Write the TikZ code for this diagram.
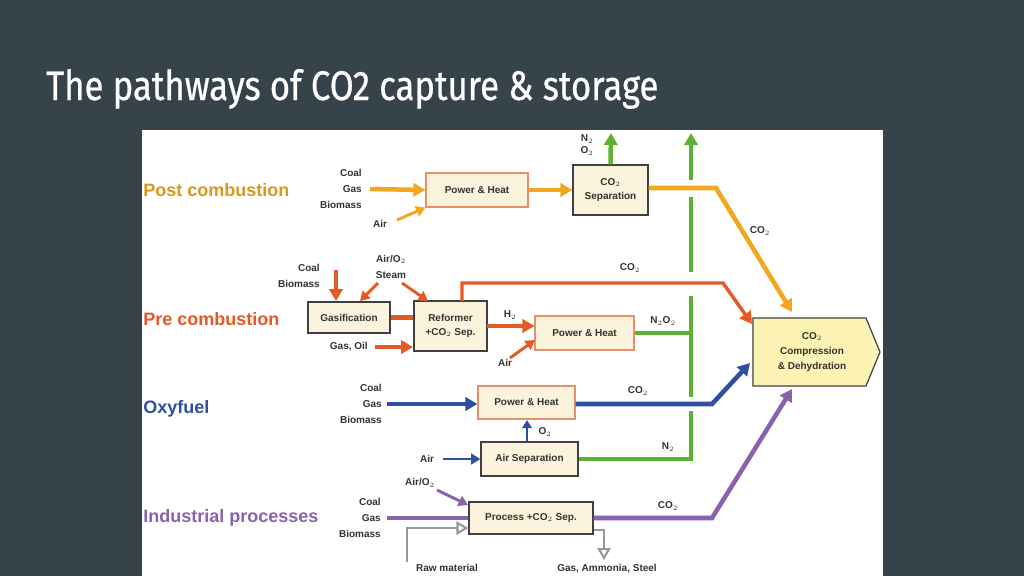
\documentclass[tikz,border=0pt]{standalone}
\usepackage{fontspec}
\setmainfont{Liberation Sans}
\newfontfamily\titlefont[FakeStretch=0.84,FakeBold=0.6]{Fira Sans}
\usetikzlibrary{arrows.meta}
\definecolor{bgc}{HTML}{37434B}
\definecolor{orng}{HTML}{F2A81D}
\definecolor{redc}{HTML}{E45A24}
\definecolor{grn}{HTML}{5DB135}
\definecolor{blu}{HTML}{2F4FA0}
\definecolor{pur}{HTML}{8A63B0}
\definecolor{boxfill}{HTML}{FBF3DC}
\definecolor{boxedge}{HTML}{E8906A}
\definecolor{compfill}{HTML}{FDF3B4}
\tikzset{
 lbl/.style={font=\fontsize{7.5}{12}\selectfont\bfseries, text=black!80, inner sep=0pt, align=right},
 clbl/.style={lbl, align=center},
 pbox/.style={draw=boxedge, line width=0.9pt, fill=boxfill, font=\fontsize{7.5}{10.5}\selectfont\bfseries, text=black!80, align=center, inner sep=1pt},
 gbox/.style={pbox, draw=black!75},
 flow/.style={line width=3.4pt, -{Triangle[length=9pt,width=10pt]}},
 thin/.style={line width=2.2pt, -{Triangle[length=7pt,width=8pt]}},
 plain/.style={line width=3.4pt},
 sect/.style={font=\fontsize{13.5}{15}\selectfont\bfseries, anchor=west, inner sep=0pt},
}
\begin{document}
\begin{tikzpicture}[x=0.75pt,y=-0.75pt]
\fill[bgc] (0,0) rectangle (1024,576);
\fill[white] (142,130) rectangle (883,576);
\node[anchor=base west, text=white, font=\titlefont\fontsize{31}{33}\selectfont, inner sep=0pt] (title) at (46,100) {The pathways of CO2 capture \& storage};

% section labels
\node[sect, text=orng!90!black] (lpost) at (143,190) {Post combustion};
\node[sect, text=redc] (lpre) at (143,319) {Pre combustion};
\node[sect, text=blu] (loxy) at (143,409) {Oxyfuel};
\node[sect, text=pur] (lind) at (143,518) {Industrial processes};

% boxes
\node[pbox, minimum width=76.5pt, minimum height=25.5pt] (ph1) at (477,190) {Power \& Heat};
\node[gbox, minimum width=56.25pt, minimum height=37.5pt] (sep) at (610.5,190) {CO$_2$\\Separation};
\node[gbox, minimum width=61.5pt, minimum height=23.25pt] (gas) at (349,317.5) {Gasification};
\node[gbox, minimum width=54.75pt, minimum height=37.5pt] (ref) at (450.5,326) {Reformer\\+CO$_2$ Sep.};
\node[pbox, minimum width=74.25pt, minimum height=25.5pt] (ph2) at (584.5,333) {Power \& Heat};
\node[pbox, minimum width=72.75pt, minimum height=24.75pt] (ph3) at (526.5,402.5) {Power \& Heat};
\node[gbox, minimum width=72.75pt, minimum height=25.5pt] (as) at (529.5,459) {Air Separation};
\node[gbox, minimum width=93pt, minimum height=24pt] (proc) at (531,518) {Process +CO$_2$ Sep.};
\draw[draw=black!75, line width=0.9pt, fill=compfill] (753,318) -- (866,318) -- (880,352) -- (866,386) -- (753,386) -- cycle;
\node[pbox, draw=none, fill=none, font=\fontsize{7.5}{11.5}\selectfont\bfseries] (comp) at (812,352) {CO$_2$\\Compression\\\& Dehydration};

% input labels
\node[lbl, anchor=east] (in1) at (362,189) {Coal\\Gas\\Biomass};
\node[lbl] (air1) at (380,224) {Air};
\node[lbl, anchor=east] (in2) at (320,276) {Coal\\Biomass};
\node[clbl] (airst) at (391,267) {Air/O$_2$\\Steam};
\node[lbl, anchor=east] (gasoil) at (368,347) {Gas, Oil};
\node[lbl] (air2) at (505,363) {Air};
\node[lbl, anchor=east] (in3) at (382,404) {Coal\\Gas\\Biomass};
\node[lbl] (air3) at (427,459) {Air};
\node[lbl] (airo2) at (420,483) {Air/O$_2$};
\node[lbl, anchor=east] (in4) at (381,518) {Coal\\Gas\\Biomass};
\node[lbl] (raw) at (447,568) {Raw material};
\node[lbl] (outp) at (607,569) {Gas, Ammonia, Steel};

% flow labels
\node[clbl, font=\fontsize{7.5}{9}\selectfont\bfseries] (n2o2a) at (587,145) {N$_2$\\O$_2$};
\node[lbl] (co2a) at (760,231) {CO$_2$};
\node[lbl] (co2b) at (630,268) {CO$_2$};
\node[lbl] (h2) at (510,315) {H$_2$};
\node[lbl] (n2o2b) at (663,321) {N$_2$O$_2$};
\node[lbl] (co2c) at (638,391) {CO$_2$};
\node[lbl] (o2) at (545,432) {O$_2$};
\node[lbl] (n2) at (668,447) {N$_2$};
\node[lbl] (co2d) at (668,506) {CO$_2$};

% green vent line
\coordinate (gb1) at (691,333);
\coordinate (gb2) at (691,459);
\coordinate (gtop) at (691,133);
\draw[grn, plain] (as.east) -- (gb2) -- (691,411);
\draw[grn, plain] (691,397) -- (691,296);
\draw[grn, plain] (ph2.east) -- (gb1);
\draw[grn, plain] (691,272) -- (691,197);
\draw[grn, flow] (691,180) -- (gtop);
\draw[grn, flow] (sep.north) -- (611,133);

% post combustion
\draw[orng, flow] (370,189) -- (ph1.west);
\draw[orng, thin] (397,220) -- (ph1.south west);
\draw[orng, flow] (ph1.east) -- (sep.west);
\coordinate (ok) at (716,188);
\coordinate (ctop) at (792,312);
\draw[orng, flow] (sep.east |- ok) -- (ok) -- (ctop);

% pre combustion
\draw[redc, flow] (336,270) -- (336,301);
\draw[redc, thin] (378,283) -- (360,301);
\draw[redc, thin] (402,283) -- (428,301);
\draw[redc, plain] (gas.east) -- (ref.west |- gas.east);
\draw[redc, flow] (375,347) -- (413,347);
\coordinate (rk1) at (462,283);
\coordinate (rk2) at (723,283);
\coordinate (rend) at (752,324);
\draw[redc, flow, line width=2.6pt] (462,301) -- (rk1) -- (rk2) -- (rend);
\draw[redc, flow, line width=2.6pt] (487,326) -- (ph2.west |- 0,326);
\draw[redc, thin] (510,358) -- (535,340);

% oxyfuel
\draw[blu, flow] (387,404) -- (ph3.west |- 0,404);
\coordinate (bk) at (712,404);
\coordinate (bend) at (750,363);
\draw[blu, flow] (ph3.east |- 0,404) -- (bk) -- (bend);
\draw[blu, line width=2pt, -{Triangle[length=6pt,width=7pt]}] (527,441) -- (527,420);
\draw[blu, line width=2pt, -{Triangle[length=7pt,width=8pt]}] (443,459) -- (as.west);

% industrial
\draw[pur, plain] (387,518) -- (proc.west);
\draw[pur, thin] (437,490) -- (468,505);
\coordinate (pk) at (712,518);
\coordinate (pend) at (792,389);
\draw[pur, flow] (proc.east) -- (pk) -- (pend);
\draw[black!40, line width=1.6pt, -{Triangle[open, fill=white, length=9pt,width=10pt]}] (407,562) -- (407,528) -- (proc.west |- 0,528);
\draw[black!40, line width=1.6pt, -{Triangle[open, fill=white, length=9pt,width=10pt]}] (proc.east |- 0,530) -- (604,530) -- (604,560);
\end{tikzpicture}
\end{document}
